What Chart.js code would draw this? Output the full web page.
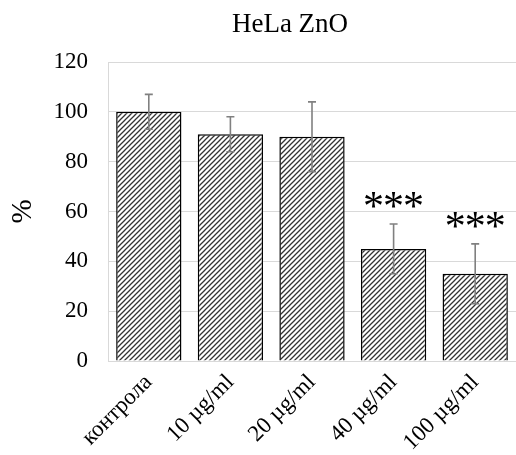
<!DOCTYPE html>
<html>
<head>
<meta charset="utf-8">
<script src="https://cdn.jsdelivr.net/npm/chart.js@4"></script>
<style>
  html, body { margin: 0; padding: 0; background: #fff; }
  #c { display: block; }
</style>
</head>
<body>
<canvas id="c" width="516" height="455"></canvas>
<script>
// data
const categories = ["контрола", "10 µg/ml", "20 µg/ml", "40 µg/ml", "100 µg/ml"];
const values     = [100, 91, 90, 45, 35];
const errors     = [7, 7, 14, 10, 12];
const signif     = ["", "", "", "***", "***"];
const yTicks     = [0, 20, 40, 60, 80, 100, 120];
const chartTitle = "HeLa ZnO";

const SERIF = "'Liberation Serif', 'Times New Roman', serif";

// hatch fill, "/" lines
function makeHatch() {
  const t = document.createElement("canvas");
  t.width = 5; t.height = 5;
  const g = t.getContext("2d");
  g.fillStyle = "#fff";
  g.fillRect(0, 0, 5, 5);
  g.strokeStyle = "#333";
  g.lineWidth = 1.3;
  g.beginPath();
  g.moveTo(-1, 6); g.lineTo(6, -1);
  g.moveTo(-1, 1); g.lineTo(1, -1);
  g.moveTo(4, 6); g.lineTo(6, 4);
  g.stroke();
  return document.getElementById("c").getContext("2d").createPattern(t, "repeat");
}

// title, error bars, significance stars
const extras = {
  id: "extras",
  afterDatasetsDraw(chart) {
    const { ctx, scales: { x, y } } = chart;
    ctx.save();

    ctx.fillStyle = "#000";
    ctx.font = "27px " + SERIF;
    ctx.textAlign = "center";
    ctx.textBaseline = "alphabetic";
    ctx.fillText(chartTitle, 290, 32);

    ctx.strokeStyle = "#808080";
    ctx.lineWidth = 1.6;
    values.forEach((v, i) => {
      const cx = x.getPixelForValue(i);
      const top = y.getPixelForValue(v + errors[i]);
      const bot = y.getPixelForValue(v - errors[i]);
      ctx.beginPath();
      ctx.moveTo(cx, top); ctx.lineTo(cx, bot);
      ctx.moveTo(cx - 4, top); ctx.lineTo(cx + 4, top);
      ctx.moveTo(cx - 4, bot); ctx.lineTo(cx + 4, bot);
      ctx.stroke();
    });

    ctx.font = "42px " + SERIF;
    const m = ctx.measureText("*");
    const lift = (m.actualBoundingBoxAscent - m.actualBoundingBoxDescent) / 2;
    signif.forEach((s, i) => {
      if (!s) return;
      const cx = x.getPixelForValue(i);
      const cy = y.getPixelForValue(values[i] + errors[i]) - 24;
      for (let k = 0; k < s.length; k++) {
        ctx.fillText("*", cx + (k - (s.length - 1) / 2) * 20, cy + lift);
      }
    });
    ctx.restore();
  },
};

new Chart(document.getElementById("c"), {
  type: "bar",
  data: {
    labels: categories,
    datasets: [{
      data: values,
      backgroundColor: makeHatch(),
      borderColor: "#000",
      borderWidth: 1.5,
      barPercentage: 0.8,
      categoryPercentage: 1.0,
    }],
  },
  options: {
    responsive: false,
    animation: false,
    layout: { padding: { left: 0, right: 0, top: 62, bottom: 0 } },
    plugins: {
      legend: { display: false },
      tooltip: { enabled: false },
      title: { display: false },
    },
    scales: {
      x: {
        afterFit: (ax) => { ax.height = 94; },
        grid: { display: false, drawTicks: false },
        border: { color: "#d9d9d9", width: 1 },
        ticks: {
          color: "#000",
          font: { family: SERIF, size: 23 },
          maxRotation: 45,
          minRotation: 45,
          padding: 8,
        },
      },
      y: {
        min: 0,
        max: 120,
        afterBuildTicks: (ax) => { ax.ticks = yTicks.map((v) => ({ value: v })); },
        afterFit: (ax) => { ax.width = 108; },
        grid: { color: "#d9d9d9", drawTicks: false },
        border: { color: "#d9d9d9", width: 1 },
        ticks: {
          color: "#000",
          font: { family: SERIF, size: 23 },
          padding: 20,
        },
        title: {
          display: true,
          text: "%",
          color: "#000",
          font: { family: SERIF, size: 29 },
          padding: { top: 6, bottom: 0 },
        },
      },
    },
  },
  plugins: [extras],
});
</script>
</body>
</html>
